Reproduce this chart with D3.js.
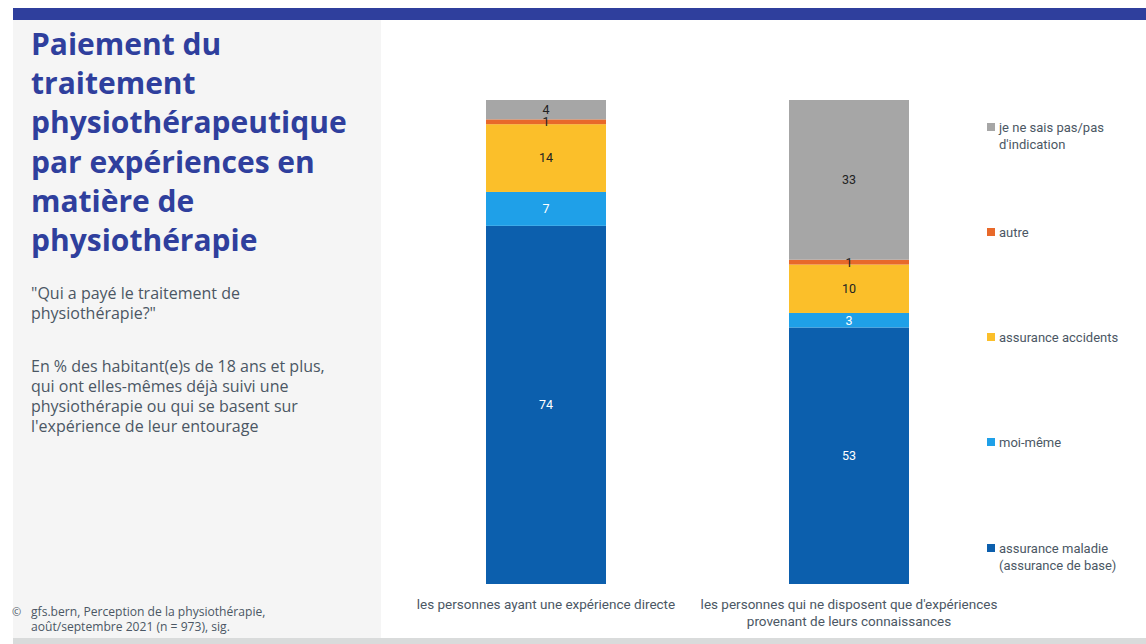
<!DOCTYPE html>
<html>
<head>
<meta charset="utf-8">
<script src="https://cdn.jsdelivr.net/npm/d3@7"></script>
<style>
  html, body { margin: 0; padding: 0; background: #ffffff; }
  svg { display: block; }
</style>
</head>
<body>
<svg id="chart" width="1146" height="644"></svg>
<script>
// Payment of physiotherapy treatment, by type of experience (%)
const categories = [
  ["les personnes ayant une expérience directe"],
  ["les personnes qui ne disposent que d'expériences", "provenant de leurs connaissances"]
];
const seriesNames = [
  ["assurance maladie", "(assurance de base)"],
  ["moi-même"],
  ["assurance accidents"],
  ["autre"],
  ["je ne sais pas/pas", "d'indication"]
];
const seriesColors = ["#0c5fad", "#1fa0e8", "#fbbf2a", "#e8692a", "#a6a6a6"];
const labelColors = ["#ffffff", "#ffffff", "#222222", "#222222", "#222222"];
// values per series, one entry per category
const maladie   = [74, 53];
const moiMeme   = [7, 3];
const accidents = [14, 10];
const autre     = [1, 1];
const nsp       = [4, 33];
const seriesValues = [maladie, moiMeme, accidents, autre, nsp];

const titleLines = ["Paiement du", "traitement", "physiothérapeutique", "par expériences en", "matière de", "physiothérapie"];
const questionLines = ["\"Qui a payé le traitement de", "physiothérapie?\""];
const baseLines = ["En % des habitant(e)s de 18 ans et plus,", "qui ont elles-mêmes déjà suivi une", "physiothérapie ou qui se basent sur", "l'expérience de leur entourage"];
const sourceLines = ["gfs.bern, Perception de la physiothérapie,", "août/septembre 2021 (n = 973), sig."];

const svg = d3.select("#chart");
const font = "Roboto, 'Noto Sans', sans-serif";
const panelFont = "'Open Sans', 'Noto Sans', sans-serif";
const textGrey = "#4b5764";

// frame: top band, side panel, bottom strip
svg.append("rect").attr("x", 13).attr("y", 8).attr("width", 1133).attr("height", 12).attr("fill", "#2f3f9d");
svg.append("rect").attr("x", 13).attr("y", 20).attr("width", 368).attr("height", 618).attr("fill", "#f5f5f5");
svg.append("rect").attr("x", 13).attr("y", 638).attr("width", 1133).attr("height", 6).attr("fill", "#d9dbdb");

// side panel texts
const title = svg.append("text").attr("font-family", panelFont).attr("font-weight", 700)
  .attr("font-size", 30).attr("fill", "#2f3f9d");
titleLines.forEach((t, i) => {
  title.append("tspan").attr("x", 31).attr("y", 55 + i * 39.2).text(t);
});
const q = svg.append("text").attr("font-family", panelFont).attr("font-size", 16).attr("fill", textGrey);
questionLines.forEach((t, i) => q.append("tspan").attr("x", 31).attr("y", 299 + i * 20).text(t));
const b = svg.append("text").attr("font-family", panelFont).attr("font-size", 16).attr("fill", textGrey);
baseLines.forEach((t, i) => b.append("tspan").attr("x", 31).attr("y", 372 + i * 20).text(t));
svg.append("text").attr("x", 12).attr("y", 616).attr("font-family", panelFont).attr("font-size", 11)
  .attr("fill", textGrey).text("©");
const s = svg.append("text").attr("font-family", panelFont).attr("font-size", 12.1).attr("fill", textGrey);
sourceLines.forEach((t, i) => s.append("tspan").attr("x", 31).attr("y", 616 + i * 15).text(t));

// scales: two 120px bars centred at 546 and 849
const x = d3.scaleBand().domain(d3.range(categories.length)).range([394.5, 1000.5])
  .paddingInner(0.604).paddingOuter(0.302);
const y = d3.scaleLinear().domain([0, 100]).range([584, 100]);

// stacked layout
const rows = categories.map((c, ci) => {
  const r = { ci };
  seriesValues.forEach((v, si) => r["s" + si] = v[ci]);
  return r;
});
const stack = d3.stack().keys(seriesValues.map((_, si) => "s" + si));
const layers = stack(rows);

const g = svg.append("g");
layers.forEach((layer, si) => {
  g.append("g").selectAll("rect").data(layer).join("rect")
    .attr("x", d => x(d.data.ci))
    .attr("width", x.bandwidth())
    .attr("y", d => y(d[1]))
    .attr("height", d => y(d[0]) - y(d[1]))
    .attr("fill", seriesColors[si]);
});
layers.forEach((layer, si) => {
  g.append("g").selectAll("text").data(layer).join("text")
    .attr("x", d => x(d.data.ci) + x.bandwidth() / 2)
    .attr("y", d => (y(d[0]) + y(d[1])) / 2)
    .attr("dy", "0.35em")
    .attr("text-anchor", "middle")
    .attr("font-family", font).attr("font-size", 12.5)
    .attr("fill", labelColors[si])
    .text(d => d[1] - d[0]);
});

// category labels
categories.forEach((lines, ci) => {
  const t = svg.append("text").attr("font-family", font).attr("font-size", 13.5).attr("fill", textGrey)
    .attr("text-anchor", "middle");
  lines.forEach((l, li) => t.append("tspan").attr("x", x(ci) + x.bandwidth() / 2).attr("y", 609 + li * 17).text(l));
});

// legend, listed top to bottom in reverse stack order
const legendY = [548, 442, 337, 232, 127];
seriesNames.forEach((lines, si) => {
  const ly = legendY[si];
  svg.append("rect").attr("x", 987).attr("y", ly - 4).attr("width", 8).attr("height", 8).attr("fill", seriesColors[si]);
  const t = svg.append("text").attr("font-family", font).attr("font-size", 13).attr("fill", textGrey);
  lines.forEach((l, li) => t.append("tspan").attr("x", 999).attr("y", ly + 4.5 + li * 17.5).text(l));
});
</script>
</body>
</html>
